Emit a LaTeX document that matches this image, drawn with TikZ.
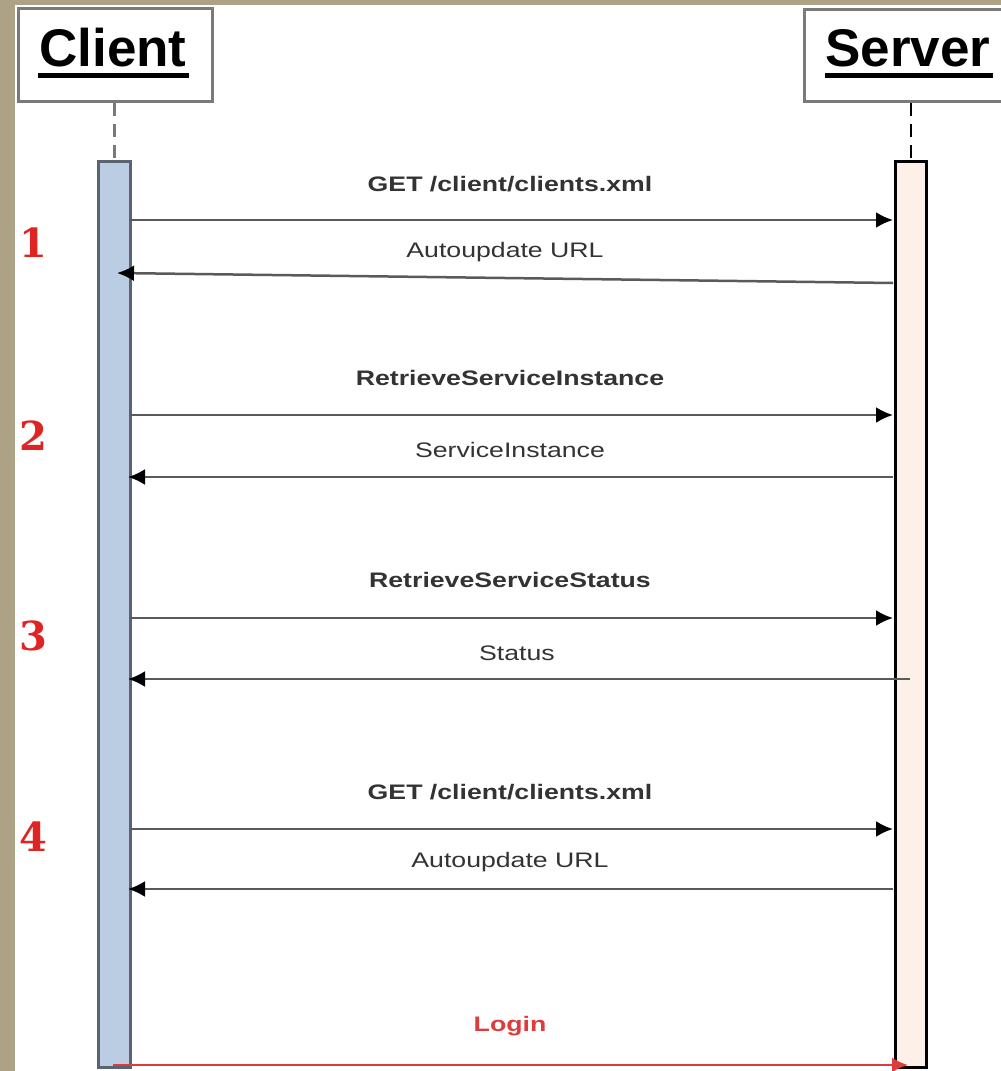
\documentclass[tikz,border=0pt]{standalone}
\usepackage{fontspec}
\setmainfont{Liberation Sans}
\newfontfamily\numfont{DejaVu Serif}
\usetikzlibrary{arrows.meta}
\definecolor{stone}{HTML}{ADA186}
\definecolor{boxline}{HTML}{7A7A7A}
\definecolor{cfill}{HTML}{BACDE2}
\definecolor{cline}{HTML}{5A6470}
\definecolor{sfill}{HTML}{FDF0E8}
\definecolor{msgline}{HTML}{5A5A5A}
\definecolor{txt}{HTML}{333333}
\definecolor{numred}{HTML}{E02424}
\definecolor{loginred}{HTML}{DE3C3C}
\newcommand{\wide}[1]{\scalebox{1.27}[1]{#1}}
\tikzset{
  actor/.style={draw=boxline, line width=3pt, fill=white, inner sep=0pt, anchor=north west},
  actortext/.style={font=\fontsize{53}{60}\selectfont\bfseries, text=black, inner sep=0pt},
  cbarstyle/.style={draw=cline, line width=2.5pt, fill=cfill, inner sep=0pt, anchor=north west, minimum width=32pt, minimum height=906pt},
  sbarstyle/.style={draw=black, line width=2.5pt, fill=sfill, inner sep=0pt, anchor=north west, minimum width=31pt, minimum height=906pt},
  msg/.style={draw=msgline, line width=2.5pt, arrows={-{Latex[length=17pt,width=16pt,color=black]}}},
  lbl/.style={font=\fontsize{21}{24}\selectfont, text=txt},
  blbl/.style={font=\fontsize{21}{24}\selectfont\bfseries, text=txt},
  num/.style={font=\fontsize{40}{44}\selectfont\numfont\bfseries, text=numred},
  life/.style={line width=2.5pt, dash pattern=on 13pt off 8pt},
}
\begin{document}
\begin{tikzpicture}[x=1pt,y=-1pt]
\useasboundingbox (0,0) rectangle (1001,1071);
% background
\fill[stone] (0,0) rectangle (1001,1071);
\fill[white] (15,5) rectangle (1001,1071);
% actors
\node[actor, minimum width=194pt, minimum height=93pt] (client) at (17,7) {};
\node[actortext] (clientT) at (113,48) {Client};
\draw[line width=5pt] (38,75) -- (189,75);
\node[actor, minimum width=210pt, minimum height=92pt] (server) at (803,8) {};
\node[actortext, anchor=west] (serverT) at (825,48) {Server};
\draw[line width=5pt] (825,75) -- (993,75);
% lifelines
\node[cbarstyle] (cbar) at (97,160) {};
\node[sbarstyle] (sbar) at (894,160) {};
\draw[life, boxline] (client.south -| cbar.north) -- (cbar.north);
\draw[life, black] (server.south -| sbar.north) -- (sbar.north);
% numbers
\node[num] (n1) at (33,243) {1};
\node[num] (n2) at (33,436) {2};
\node[num] (n3) at (33,636) {3};
\node[num] (n4) at (33,837) {4};
% message coordinates
\coordinate (c1) at (130,220); \coordinate (s1) at (893,220);
\coordinate (s1r) at (893,283); \coordinate (c1r) at (117,273);
\coordinate (c2) at (130,415); \coordinate (s2) at (893,415);
\coordinate (s2r) at (893,477); \coordinate (c2r) at (128,477);
\coordinate (c3) at (130,618); \coordinate (s3) at (893,618);
\coordinate (s3r) at (910,679); \coordinate (c3r) at (128,679);
\coordinate (c4) at (130,829); \coordinate (s4) at (893,829);
\coordinate (s4r) at (893,889); \coordinate (c4r) at (128,889);
\coordinate (c5) at (113,1065); \coordinate (s5) at (908,1065);
% messages
\draw[msg] (c1) -- (s1);
\node[blbl] (m1) at (510,184) {\wide{GET /client/clients.xml}};
\draw[msg] (s1r) -- (c1r);
\node[lbl] (m1r) at (505,252) {\wide{Autoupdate URL}};
\draw[msg] (c2) -- (s2);
\node[blbl] (m2) at (510,378) {\wide{RetrieveServiceInstance}};
\draw[msg] (s2r) -- (c2r);
\node[lbl] (m2r) at (510,450) {\wide{ServiceInstance}};
\draw[msg] (c3) -- (s3);
\node[blbl] (m3) at (510,580) {\wide{RetrieveServiceStatus}};
\draw[msg] (s3r) -- (c3r);
\node[lbl] (m3r) at (517,653) {\wide{Status}};
\draw[msg] (c4) -- (s4);
\node[blbl] (m4) at (510,792) {\wide{GET /client/clients.xml}};
\draw[msg] (s4r) -- (c4r);
\node[lbl] (m4r) at (510,862) {\wide{Autoupdate URL}};
\draw[draw=loginred, line width=2.5pt, -{Latex[length=16pt,width=15pt]}] (c5) -- (s5);
\node[font=\fontsize{21}{24}\selectfont\bfseries, text=loginred] (m5) at (510,1026) {\wide{Login}};
\end{tikzpicture}
\end{document}
